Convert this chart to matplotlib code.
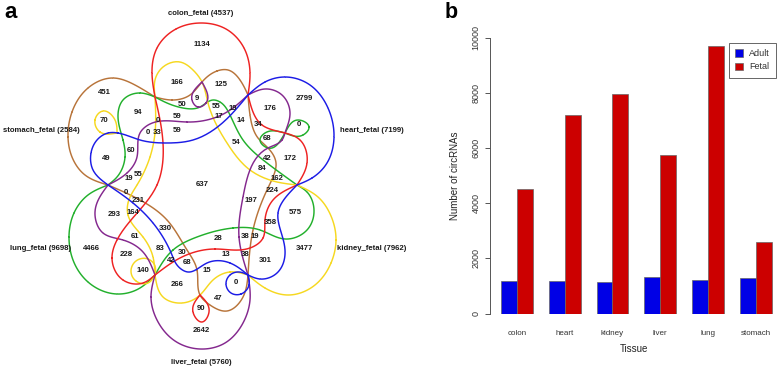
import numpy as np
import matplotlib
matplotlib.use('Agg')
import matplotlib.pyplot as plt
from matplotlib.patches import Patch

plt.rcParams['font.family'] = ['Liberation Sans', 'DejaVu Sans']

# panel b values
tissues = ['colon', 'heart', 'kidney', 'liver', 'lung', 'stomach']
adult = [1190, 1190, 1150, 1342, 1230, 1300]
fetal = [4537, 7199, 7962, 5760, 9698, 2584]

# panel a, set names
set_names = ['colon_fetal (4537)', 'heart_fetal (7199)', 'kidney_fetal (7962)',
             'liver_fetal (5760)', 'lung_fetal (9698)', 'stomach_fetal (2584)']
set_name_xy = [(201, 13.5), (372, 131), (372, 249), (201, 363), (40.5, 249), (41, 131)]

# panel a, region counts
venn_counts = ['1134', '166', '451', '94', '50', '9', '0', '59', '70', '0', '33', '59', '49', '60',
               '55', '19', '637', '125', '55', '19', '17', '14', '176', '2799', '34', '0', '68', '54',
               '42', '172', '84', '162', '224', '0', '231', '164', '293', '330', '61', '4466', '83',
               '30', '228', '42', '68', '140', '15', '266', '90', '2642', '47', '197', '575', '358',
               '38', '19', '28', '13', '38', '301', '3477', '0']
venn_xy = [(202, 44), (177, 82), (104, 93), (138, 112), (182, 104), (197, 98), (158, 120), (177, 117),
           (104, 120), (148, 133), (157, 133), (177, 131), (106, 158), (131, 150), (138, 174), (129, 179),
           (202, 184), (221, 85), (216, 107), (233, 109), (219, 117), (241, 120), (270, 109), (304, 98),
           (258, 125), (299, 125), (267, 139), (236, 142), (267, 158), (290, 158), (262, 168), (277, 178),
           (272, 191), (126, 193), (138, 201), (133, 212), (114, 214), (165, 228), (135, 236), (91, 249),
           (160, 249), (182, 252), (126, 255), (171, 260), (187, 263), (143, 271), (207, 271), (177, 285),
           (201, 309), (201, 330), (218, 298), (251, 201), (295, 212), (270, 222), (245, 236), (255, 236),
           (218, 239), (226, 255), (245, 255), (265, 260), (304, 249), (236, 282)]

# outlines, in pixels
nodes = [(155, 97), (248, 95), (297, 185), (248, 275), (155, 275), (108, 185)]
colon_curve = [(155, 97), (163, 143), (157, 185), (117, 240), (112, 258), (123, 280), (143, 283),
               (155, 275), (180, 258), (215, 249), (250, 248), (263, 238), (265, 220), (273, 200),
               (297, 185), (307, 163), (300, 140), (285, 133), (262, 125), (248, 95),
               (250, 73), (244, 48), (226, 29), (201, 23), (176, 29), (157, 48), (152, 73), (155, 97)]
colon_loop = [(200, 295), (193, 312), (202, 322), (209, 312), (200, 295)]
heart_curve = [(297, 185), (278, 213), (285, 250), (277, 273), (260, 279), (248, 275), (230, 263),
               (207, 263), (188, 272), (177, 265), (172, 255), (153, 223), (133, 203), (108, 185),
               (93, 170), (91, 153), (97, 140), (108, 133), (118, 133), (140, 140), (167, 143),
               (193, 140), (220, 125), (248, 95), (265, 82), (285, 77), (310, 85), (328, 108),
               (334, 137), (327, 163), (312, 178), (297, 185)]
heart_loop = [(248, 275), (249, 285), (241, 294), (231, 293), (226, 284), (230, 275), (239, 272), (248, 275)]
stomach_curve = [(155, 97), (172, 100), (190, 95), (202, 82), (217, 71), (228, 70), (240, 80), (248, 95),
                 (250, 115), (258, 138), (268, 148), (276, 163), (273, 177), (267, 190), (253, 230),
                 (248, 275), (243, 297), (227, 311), (210, 305), (200, 295), (197, 270), (187, 250),
                 (167, 220), (140, 200), (108, 185), (85, 175), (72, 157), (68, 137), (72, 112),
                 (88, 88), (113, 78), (135, 85), (155, 97)]
lung_curve = [(108, 185), (88, 195), (74, 213), (69, 237), (73, 260), (88, 282), (117, 294), (140, 288),
              (155, 275), (173, 250), (197, 237), (233, 228), (260, 230), (285, 239), (307, 230),
              (314, 212), (307, 192), (297, 185), (267, 163), (243, 140), (230, 115), (220, 102),
              (213, 100), (200, 107), (183, 108), (167, 103), (155, 97), (140, 93), (123, 100),
              (118, 117), (123, 140), (125, 157), (117, 177), (108, 185)]
lung_loop = [(285, 133), (298, 120), (309, 127), (303, 135), (285, 133), (268, 148), (260, 140),
             (265, 133), (285, 133)]
kidney_curve = [(297, 185), (318, 197), (331, 216), (336, 240), (331, 263), (315, 285), (288, 295),
                (265, 288), (248, 275), (230, 272), (213, 280), (200, 295), (182, 303), (163, 297),
                (155, 275), (153, 257), (143, 237), (128, 215), (128, 203), (137, 185), (150, 157),
                (155, 133), (155, 97), (155, 80), (163, 67), (180, 62), (193, 70), (202, 82), (208, 103),
                (227, 143), (250, 170), (277, 182), (297, 185)]
stomach_set_loop = [(117, 133), (100, 132), (95, 120), (103, 111), (115, 120), (117, 133)]
lung_set_loop = [(155, 275), (148, 283), (136, 281), (131, 271), (136, 261), (148, 259), (155, 266), (155, 275)]
liver_curve = [(155, 275), (151, 297), (157, 320), (175, 341), (200, 349), (225, 343), (243, 323),
               (250, 300), (248, 275), (239, 237), (243, 197), (268, 148), (282, 140), (285, 133),
               (290, 113), (282, 95), (265, 89), (248, 95), (227, 112), (187, 122), (150, 124),
               (140, 133), (137, 157), (127, 173), (108, 185), (95, 212), (103, 233), (123, 240),
               (143, 252), (155, 275)]
liver_loop = [(202, 82), (192, 100), (198, 107), (206, 103), (202, 82)]


def smooth(pts, n=14):
    # natural cubic spline over chord length
    pts = np.array(pts, dtype=float)
    h = np.hypot(*np.diff(pts, axis=0).T)
    k = len(pts)
    if k == 2:
        return pts
    a = np.zeros((k, k))
    a[0, 0] = a[-1, -1] = 1
    b = np.zeros((k, 2))
    for i in range(1, k - 1):
        a[i, i - 1:i + 2] = h[i - 1], 2 * (h[i - 1] + h[i]), h[i]
        b[i] = 6 * ((pts[i + 1] - pts[i]) / h[i] - (pts[i] - pts[i - 1]) / h[i - 1])
    m = np.linalg.solve(a, b)
    out = []
    for i in range(k - 1):
        t = np.linspace(0, h[i], n)[:, None]
        u = h[i] - t
        out.append((m[i] * u ** 3 + m[i + 1] * t ** 3) / (6 * h[i])
                   + (pts[i] / h[i] - m[i] * h[i] / 6) * u
                   + (pts[i + 1] / h[i] - m[i + 1] * h[i] / 6) * t)
    return np.vstack(out)


def draw_curve(ax, pts, color):
    # break the spline at the six shared points so the cusps stay sharp
    part = [pts[0]]
    for q in pts[1:]:
        part.append(q)
        if q in nodes or q == pts[0]:
            xy = smooth(part)
            ax.plot(xy[:, 0], xy[:, 1], color=color, lw=1.05, solid_capstyle='round')
            part = [q]
    if len(part) > 1:
        xy = smooth(part)
        ax.plot(xy[:, 0], xy[:, 1], color=color, lw=1.05, solid_capstyle='round')


fig = plt.figure(figsize=(7.78, 3.69), dpi=100)
W, H = 778, 369

# panel a in pixel space
ax_a = fig.add_axes([0, 0, 1, 1])
ax_a.set_xlim(0, W)
ax_a.set_ylim(H, 0)
ax_a.axis('off')

red = '#ee2222'
blue = '#1c1ce6'
brown = '#b8743a'
green = '#22b02c'
yellow = '#f6d820'
purple = '#84288e'
draw_curve(ax_a, stomach_curve, brown)
draw_curve(ax_a, lung_curve, green)
draw_curve(ax_a, lung_loop, green)
draw_curve(ax_a, kidney_curve, yellow)
draw_curve(ax_a, stomach_set_loop, yellow)
draw_curve(ax_a, lung_set_loop, yellow)
draw_curve(ax_a, liver_curve, purple)
draw_curve(ax_a, liver_loop, purple)
draw_curve(ax_a, colon_curve, red)
draw_curve(ax_a, colon_loop, red)
draw_curve(ax_a, heart_curve, blue)
draw_curve(ax_a, heart_loop, blue)

for s, (x, y) in zip(venn_counts, venn_xy):
    ax_a.text(x, y, s, fontsize=5.6, fontweight='bold', ha='center', va='center', color='#1a1a1a')
for s, (x, y) in zip(set_names, set_name_xy):
    ax_a.text(x, y, s, fontsize=5.6, fontweight='bold', ha='center', va='center', color='#1a1a1a')
ax_a.text(4, 18, 'a', fontsize=16, fontweight='bold', ha='left', va='baseline')
ax_a.text(445, 18, 'b', fontsize=15.5, fontweight='bold', ha='left', va='baseline')

# panel b
ax = fig.add_axes([490 / W, 1 - 313.5 / H, 288 / W, 275.5 / H])
unit = 15.92
x_adult = np.arange(6) * 3 + 1
x_fetal = x_adult + 1
ax.bar(x_adult, adult, width=1, align='edge', color='#0000e6', edgecolor='#666666', linewidth=0.5)
ax.bar(x_fetal, fetal, width=1, align='edge', color='#cc0000', edgecolor='#666666', linewidth=0.5)
ax.set_xlim(1 - 11 / unit, 1 - 11 / unit + 288 / unit)
ax.set_ylim(0, 10000)
for sp in ['top', 'right', 'bottom']:
    ax.spines[sp].set_visible(False)
ax.spines['left'].set_color('#555555')
ax.spines['left'].set_linewidth(0.7)
ax.set_yticks([0, 2000, 4000, 6000, 8000, 10000])
ax.tick_params(axis='y', length=5.5 * 0.72, width=0.7, color='#555555', labelsize=6.5,
               labelcolor='#333333', pad=3)
plt.setp(ax.get_yticklabels(), rotation=90, va='center')
ax.set_xticks(x_fetal)
ax.set_xticklabels(tissues, fontsize=5.8, color='#333333')
ax.tick_params(axis='x', length=0, pad=12)
ax.set_xlabel('Tissue', fontsize=7, color='#222222', labelpad=5)
ax.set_ylabel('Number of circRNAs', fontsize=7, color='#222222', labelpad=8)

handles = [Patch(facecolor='#0000e6', edgecolor='#666666', linewidth=0.5),
           Patch(facecolor='#cc0000', edgecolor='#666666', linewidth=0.5)]
leg = ax.legend(handles, ['Adult', 'Fetal'], loc='upper right', bbox_to_anchor=(286 / 288, 1 - 5 / 275.5),
                borderaxespad=0, fontsize=6.5, fancybox=False, framealpha=1, edgecolor='#666666',
                handlelength=0.8, handleheight=0.9, handletextpad=0.7, labelspacing=0.45,
                borderpad=0.7, labelcolor='#333333')
leg.get_frame().set_linewidth(0.7)

fig.savefig('out.png', dpi=100)
